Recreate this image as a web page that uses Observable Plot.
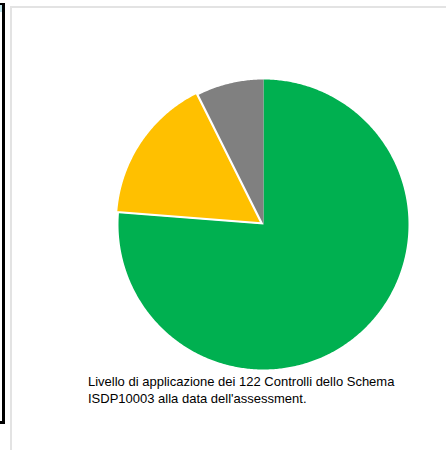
<!DOCTYPE html>
<html>
<head>
<meta charset="utf-8">
<script src="https://cdn.jsdelivr.net/npm/d3@7"></script>
<script src="https://cdn.jsdelivr.net/npm/@observablehq/plot@0.6"></script>
<style>
  html, body { margin: 0; padding: 0; background: #fff; }
  #page { position: relative; width: 446px; height: 450px; overflow: hidden; background: #fff; }
  .deco { position: absolute; }
  #chart { position: absolute; left: 0; top: 0; }
  #caption { position: absolute; left: 88px; top: 374px; font-family: "Liberation Sans", Arial, sans-serif; font-size: 13px; line-height: 16.7px; color: #000; white-space: nowrap; }
</style>
</head>
<body>
<div id="page">
  <div class="deco" style="left:0;top:4px;width:3px;height:8px;background:#bfe3ea"></div>
  <div class="deco" style="left:0;top:3px;width:4px;height:2px;background:#000"></div>
  <div class="deco" style="left:2px;top:3px;width:3px;height:420px;background:#000"></div>
  <div class="deco" style="left:0;top:421px;width:5px;height:3px;background:#000"></div>
  <div class="deco" style="left:10px;top:6px;width:436px;height:2px;background:#e3e3e3"></div>
  <div class="deco" style="left:10px;top:6px;width:2px;height:444px;background:#e3e3e3"></div>
  <div id="chart"></div>
  <div id="caption">Livello di applicazione dei 122 Controlli dello Schema<br>ISDP10003 alla data dell'assessment.</div>
</div>
<script>
// Data
const categories = ["Applicato", "Parzialmente applicato", "Non applicato"];
const values = [93, 20, 9];
const colors = ["#00B050", "#FFC000", "#808080"];
const explode = [0, 0.02, 0];

// Build slice polygons (unit circle, clockwise from 12 o'clock)
const arcs = d3.pie().sort(null).value(d => d)(values);
const pts = [];
arcs.forEach((a, i) => {
  const mid = (a.startAngle + a.endAngle) / 2;
  const ox = explode[i] * Math.sin(mid), oy = explode[i] * Math.cos(mid);
  const cat = categories[i];
  pts.push({cat, x: ox, y: oy});
  const n = Math.max(2, Math.ceil((a.endAngle - a.startAngle) / 0.01));
  for (let k = 0; k <= n; k++) {
    const t = a.startAngle + (a.endAngle - a.startAngle) * k / n;
    pts.push({cat, x: ox + Math.sin(t), y: oy + Math.cos(t)});
  }
  pts.push({cat, x: ox, y: oy});
});

const chart = Plot.plot({
  width: 446,
  height: 380,
  margin: 0,
  x: {domain: [-1, 1], range: [118, 408], axis: null},
  y: {domain: [-1, 1], range: [369, 79], axis: null},
  color: {domain: categories, range: colors},
  marks: [
    Plot.line(pts.filter(d => d.cat !== categories[1]), {x: "x", y: "y", z: "cat", fill: "cat", stroke: "none"}),
    Plot.line(pts.filter(d => d.cat === categories[1]), {x: "x", y: "y", z: "cat", fill: "cat", stroke: "#fff", strokeWidth: 1.5, strokeLinejoin: "miter"})
  ]
});
document.getElementById("chart").appendChild(chart);
</script>
</body>
</html>
